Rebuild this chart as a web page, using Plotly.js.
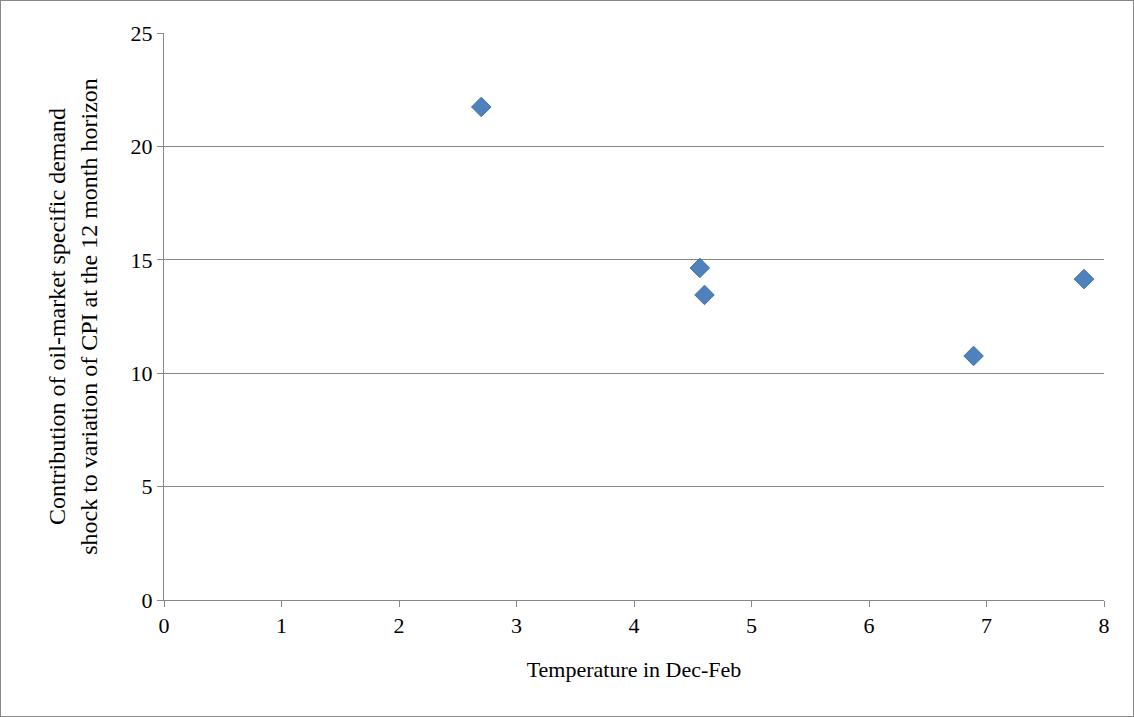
<!DOCTYPE html>
<html>
<head>
<meta charset="utf-8">
<script src="https://cdn.plot.ly/plotly-3.0.1.min.js"></script>
<style>
body{margin:0;}
#chart{width:1134px;height:717px;box-sizing:border-box;border:1px solid #888;}
</style>
</head>
<body>
<div id="chart"></div>
<script>
var temperature = [2.70, 4.56, 4.60, 6.89, 7.83];
var contribution = [21.74, 14.64, 13.45, 10.76, 14.15];

var data = [{
    type: 'scatter',
    mode: 'markers',
    x: temperature,
    y: contribution,
    marker: {symbol: 'diamond', size: 15, color: '#4F81BD', line: {color: '#3F6FA8', width: 1}},
    hoverinfo: 'none'
}];
var layout = {
    width: 1132, height: 715,
    margin: {l: 163, r: 29, t: 32, b: 116},
    paper_bgcolor: '#fff', plot_bgcolor: '#fff',
    font: {family: 'Liberation Serif, Times New Roman, serif', size: 22, color: '#000'},
    showlegend: false,
    xaxis: {
        range: [0, 8], dtick: 1, showgrid: false, zeroline: false,
        showline: true, linecolor: '#888', ticks: 'outside', ticklen: 6, tickcolor: '#888',
        title: {text: 'Temperature in Dec-Feb', font: {size: 22}, standoff: 24}
    },
    yaxis: {
        range: [0, 25], dtick: 5, showgrid: true, gridcolor: '#888', zeroline: false,
        showline: true, linecolor: '#888', ticks: 'outside', ticklen: 6, tickcolor: '#888',
        title: {text: 'Contribution of oil-market specific demand<br>shock to variation of CPI at the 12 month horizon', font: {size: 24}, standoff: 26}
    }
};
Plotly.newPlot('chart', data, layout, {displayModeBar: false, staticPlot: true});
</script>
</body>
</html>
